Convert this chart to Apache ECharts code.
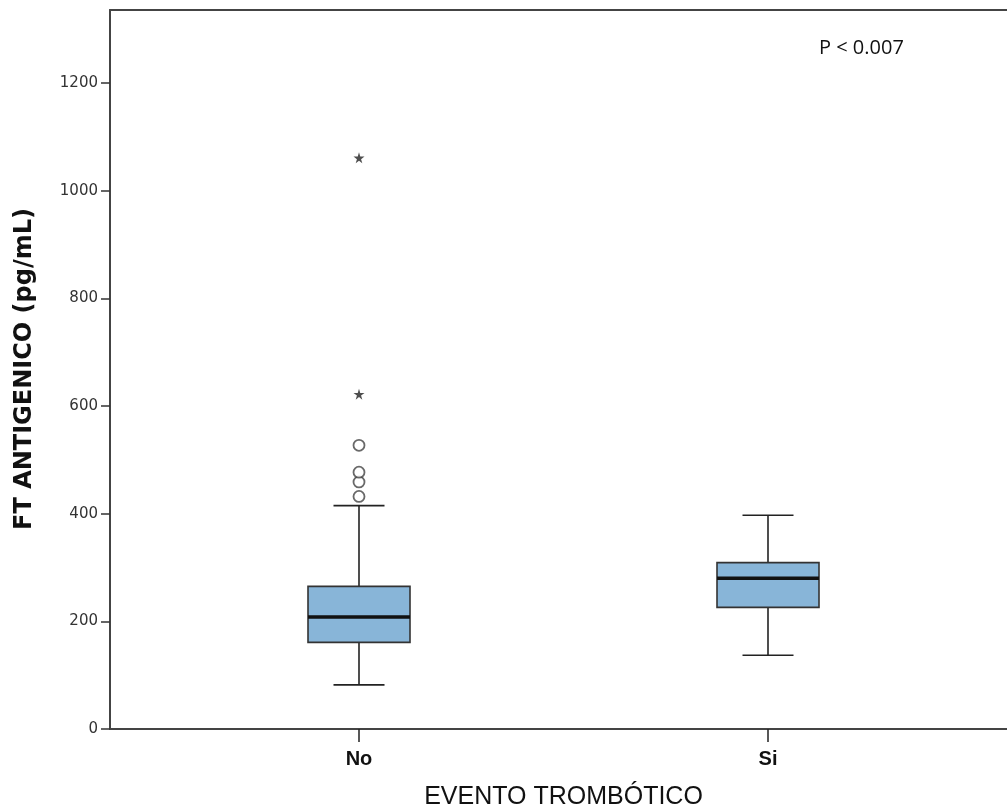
<!DOCTYPE html>
<html lang="es" style="height: 100%">
<head>
  <meta charset="utf-8">
</head>
<body style="height: 100%; margin: 0; background: #fff">
  <div id="container" style="width: 1007px; height: 812px;"></div>

  <script type="text/javascript" src="https://cdn.jsdelivr.net/npm/echarts@6/dist/echarts.min.js"></script>
  <script type="text/javascript">
    // data
    var categories = ['No', 'Si'];
    // [min, Q1, median, Q3, max] per group
    var boxStats = [
      [82, 161, 208, 265, 415],
      [137, 226, 280, 309, 397]
    ];
    var circleOutliers = [[0, 432], [0, 459], [0, 477], [0, 527]];
    var starOutliers = [[0, 622], [0, 1061]];
    var yMin = 0, yMax = 1200, yStep = 200;
    var pValueText = 'P < 0.007';

    var boxData = boxStats.map(function (s, i) { return [i].concat(s); });

    var dom = document.getElementById('container');
    var myChart = echarts.init(dom, null, { renderer: 'canvas' });

    var starPath = 'path://M50,0 L61,35 L98,35 L68,57 L79,91 L50,70 L21,91 L32,57 L2,35 L39,35 Z';

    function renderBox(params, api) {
      var c = api.value(0);
      var pMin = api.coord([c, api.value(1)]);
      var pQ1 = api.coord([c, api.value(2)]);
      var pMed = api.coord([c, api.value(3)]);
      var pQ3 = api.coord([c, api.value(4)]);
      var pMax = api.coord([c, api.value(5)]);
      var x = pMed[0];
      var hw = 51, cw = 25.5;
      var line = { stroke: '#222', lineWidth: 1.6 };
      return {
        type: 'group',
        children: [
          { type: 'line', shape: { x1: x, y1: pMax[1], x2: x, y2: pQ3[1] }, style: line },
          { type: 'line', shape: { x1: x, y1: pQ1[1], x2: x, y2: pMin[1] }, style: line },
          { type: 'line', shape: { x1: x - cw, y1: pMax[1], x2: x + cw, y2: pMax[1] }, style: line },
          { type: 'line', shape: { x1: x - cw, y1: pMin[1], x2: x + cw, y2: pMin[1] }, style: line },
          { type: 'rect', shape: { x: x - hw, y: pQ3[1], width: hw * 2, height: pQ1[1] - pQ3[1] },
            style: { fill: '#88b5d8', stroke: '#333', lineWidth: 1.6 } },
          { type: 'line', shape: { x1: x - hw, y1: pMed[1], x2: x + hw, y2: pMed[1] },
            style: { stroke: '#111', lineWidth: 3.5 } }
        ]
      };
    }

    var option = {
      animation: false,
      title: {
        text: pValueText,
        left: 814, top: 33,
        textStyle: { fontFamily: 'Open Sans', fontWeight: 'normal', fontSize: 20, color: '#111' }
      },
      graphic: [{
        type: 'text',
        x: 13, y: 369,
        rotation: Math.PI / 2,
        style: {
          text: 'FT ANTIGENICO (pg/mL)',
          fontFamily: 'DejaVu Sans', fontWeight: 'bold', fontSize: 24,
          fill: '#111', align: 'center', verticalAlign: 'top'
        }
      }],
      grid: [
        { left: 110, right: 0, top: 10, bottom: 83, outerBoundsMode: 'none' },
        { left: 154.5, width: 818, top: 83, bottom: 83, outerBoundsMode: 'none' }
      ],
      xAxis: [
        { gridIndex: 0, type: 'value', min: 0, max: 1, position: 'bottom',
          axisLine: { show: true, lineStyle: { color: '#444', width: 2 } },
          axisTick: { show: false }, axisLabel: { show: false }, splitLine: { show: false } },
        { gridIndex: 0, type: 'value', min: 0, max: 1, position: 'top',
          axisLine: { show: true, lineStyle: { color: '#444', width: 2 } },
          axisTick: { show: false }, axisLabel: { show: false }, splitLine: { show: false } },
        { gridIndex: 1, type: 'category', data: categories,
          axisLine: { show: false },
          axisTick: { show: true, alignWithLabel: true, length: 13, lineStyle: { color: '#222', width: 1.5 } },
          axisLabel: { margin: 20, fontFamily: 'Liberation Sans Narrow, Liberation Sans', fontWeight: 'bold', fontSize: 20, color: '#111' },
          name: 'EVENTO TROMBÓTICO', nameLocation: 'middle', nameGap: 56,
          nameTextStyle: { fontFamily: 'Liberation Sans Narrow, Liberation Sans', fontSize: 25, color: '#111' } }
      ],
      yAxis: [
        { gridIndex: 0, type: 'value', min: 0, max: 1,
          axisLine: { show: true, lineStyle: { color: '#444', width: 2 } },
          axisTick: { show: false }, axisLabel: { show: false }, splitLine: { show: false } },
        { gridIndex: 1, type: 'value', min: yMin, max: yMax, interval: yStep, offset: 44.5,
          axisLine: { show: false },
          axisTick: { show: true, length: 9, lineStyle: { color: '#333', width: 1.5 } },
          axisLabel: { margin: 12, fontFamily: 'DejaVu Sans', fontSize: 15, color: '#333',
            formatter: function (v) { return String(v); } },
          splitLine: { show: false } }
      ],
      series: [
        { type: 'custom', xAxisIndex: 2, yAxisIndex: 1, data: boxData,
          encode: { x: 0, y: [1, 2, 3, 4, 5] }, renderItem: renderBox },
        { type: 'scatter', xAxisIndex: 2, yAxisIndex: 1, data: circleOutliers,
          symbol: 'circle', symbolSize: 11,
          itemStyle: { color: '#fff', borderColor: '#444', borderWidth: 1.8 } },
        { type: 'scatter', xAxisIndex: 2, yAxisIndex: 1, data: starOutliers,
          symbol: starPath, symbolSize: 11,
          itemStyle: { color: '#222' } }
      ]
    };

    myChart.setOption(option);
    window.addEventListener('resize', myChart.resize);
  </script>
</body>
</html>
